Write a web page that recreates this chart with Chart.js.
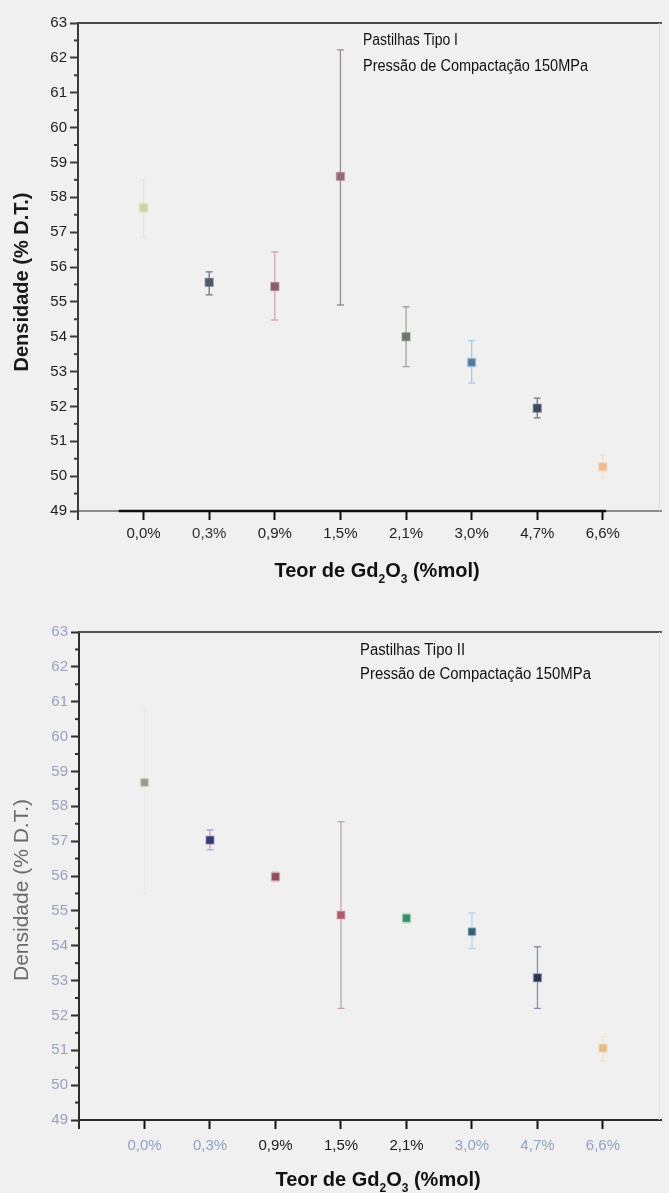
<!DOCTYPE html>
<html>
<head>
<meta charset="utf-8">
<script src="https://cdn.jsdelivr.net/npm/chart.js@4/dist/chart.umd.min.js"></script>
<style>
  html, body { margin: 0; padding: 0; background: #f0f0f0; }
  #wrap { position: relative; width: 669px; height: 1193px; overflow: hidden; }
  .panel { position: absolute; left: 0; width: 669px; }
  #p1 { top: 0; height: 596px; }
  #p2 { top: 596px; height: 597px; }
</style>
</head>
<body>
<div id="wrap">
  <div class="panel" id="p1"><canvas id="c1"></canvas></div>
  <div class="panel" id="p2"><canvas id="c2"></canvas></div>
</div>
<script>
// Gd2O3 content (mol %) — categorical positions 1..8 on the x axis
const categories = ['0,0%', '0,3%', '0,9%', '1,5%', '2,1%', '3,0%', '4,7%', '6,6%'];

// Pellet type I — green density (% of theoretical density)
const densityTipoI = [57.70, 55.56, 55.44, 58.60, 54.00, 53.26, 51.95, 50.27];
const lowTipoI     = [56.85, 55.20, 54.48, 54.91, 53.14, 52.67, 51.67, 49.95];
const highTipoI    = [58.50, 55.86, 56.43, 62.23, 54.86, 53.89, 52.24, 50.60];

// Pellet type II — green density (% of theoretical density)
const densityTipoII = [58.68, 57.03, 55.98, 54.88, 54.79, 54.40, 53.08, 51.06];
const lowTipoII     = [55.50, 56.75, 55.83, 52.20, 54.65, 53.92, 52.20, 50.70];
const highTipoII    = [60.80, 57.32, 56.13, 57.56, 54.93, 54.94, 53.97, 51.40];

// Axis range and labels
const yMin = 49, yMax = 63;
const yTitle = 'Densidade (% D.T.)';
const xTitleParts = [['Teor de Gd', 0], ['2', 1], ['O', 0], ['3', 1], [' (%mol)', 0]];
const noteTipoI = ['Pastilhas Tipo I', 'Pressão de Compactação 150MPa'];
const noteTipoII = ['Pastilhas Tipo II', 'Pressão de Compactação 150MPa'];

const FONT = '"Liberation Sans", Arial, Helvetica, sans-serif';

function drawFitted(ctx, text, x, baseline, width, font, color) {
  ctx.save();
  ctx.font = font;
  ctx.fillStyle = color;
  ctx.textAlign = 'left';
  ctx.textBaseline = 'alphabetic';
  const w = ctx.measureText(text).width;
  ctx.translate(x, baseline);
  ctx.scale(width / w, 1);
  ctx.fillText(text, 0, 0);
  ctx.restore();
}

function drawFormula(ctx, parts, cx, baseline, size, weight, color) {
  ctx.save();
  ctx.fillStyle = color;
  ctx.textAlign = 'left';
  ctx.textBaseline = 'alphabetic';
  const main = weight + ' ' + size + 'px ' + FONT;
  const sub = weight + ' ' + Math.round(size * 0.62) + 'px ' + FONT;
  let total = 0;
  parts.forEach(([t, s]) => { ctx.font = s ? sub : main; total += ctx.measureText(t).width; });
  let x = cx - total / 2;
  parts.forEach(([t, s]) => {
    ctx.font = s ? sub : main;
    ctx.fillText(t, x, baseline + (s ? size * 0.3 : 0));
    x += ctx.measureText(t).width;
  });
  ctx.restore();
}

const decor = {
  id: 'decor',
  beforeDatasetsDraw(chart, args, o) {
    const { ctx, chartArea: a, scales: { x, y } } = chart;
    ctx.save();
    // top frame line
    ctx.strokeStyle = o.frameColor;
    ctx.lineWidth = 2;
    ctx.beginPath();
    ctx.moveTo(a.left, a.top);
    ctx.lineTo(a.right, a.top);
    ctx.stroke();
    // faint right edge
    ctx.strokeStyle = o.rightColor;
    ctx.lineWidth = 1;
    ctx.beginPath();
    ctx.moveTo(a.right - 2.5, a.top);
    ctx.lineTo(a.right - 2.5, a.bottom);
    ctx.stroke();
    // dark section of the bottom axis
    if (o.darkAxis) {
      ctx.strokeStyle = '#111';
      ctx.lineWidth = 2.5;
      ctx.beginPath();
      ctx.moveTo(x.getPixelForValue(o.darkAxis[0]), a.bottom);
      ctx.lineTo(x.getPixelForValue(o.darkAxis[1]), a.bottom);
      ctx.stroke();
    }
    // y axis runs a little below the x axis
    ctx.strokeStyle = o.axisColor;
    ctx.lineWidth = 2;
    ctx.beginPath();
    ctx.moveTo(a.left, a.bottom);
    ctx.lineTo(a.left, a.bottom + 9);
    ctx.stroke();
    // minor ticks on the y axis (half units)
    ctx.strokeStyle = o.axisColor;
    ctx.lineWidth = 2;
    for (let v = yMin + 0.5; v < yMax; v += 1) {
      const py = y.getPixelForValue(v);
      ctx.beginPath();
      ctx.moveTo(a.left - 4, py);
      ctx.lineTo(a.left + 1, py);
      ctx.stroke();
    }
    // error bars
    o.low.forEach((lo, i) => {
      const px = x.getPixelForValue(i + 1);
      const y1 = y.getPixelForValue(lo);
      const y2 = y.getPixelForValue(o.high[i]);
      ctx.strokeStyle = o.barColors[i];
      ctx.lineWidth = 1.3;
      ctx.beginPath();
      ctx.moveTo(px, y1); ctx.lineTo(px, y2);
      ctx.moveTo(px - 3.5, y1); ctx.lineTo(px + 3.5, y1);
      ctx.moveTo(px - 3.5, y2); ctx.lineTo(px + 3.5, y2);
      ctx.stroke();
    });
    ctx.restore();
  },
  afterDraw(chart, args, o) {
    const { ctx } = chart;
    // annotation
    drawFitted(ctx, o.note[0], o.noteX, o.noteY[0], o.noteW[0], '16px ' + FONT, '#111');
    drawFitted(ctx, o.note[1], o.noteX, o.noteY[1], o.noteW[1], '16px ' + FONT, '#111');
    // x title with subscripts
    drawFormula(ctx, xTitleParts, o.xTitleX, o.xTitleY, 20, 'bold', '#111');
    // y title
    ctx.save();
    ctx.translate(o.yTitleX, o.yTitleY);
    ctx.rotate(-Math.PI / 2);
    ctx.font = o.yTitleFont;
    ctx.fillStyle = o.yTitleColor;
    ctx.textAlign = 'center';
    ctx.textBaseline = 'middle';
    ctx.fillText(yTitle, 0, 0);
    ctx.restore();
  }
};

function makeChart(id, p) {
  const points = p.values.map((v, i) => ({ x: i + 1, y: v }));
  return new Chart(document.getElementById(id), {
    type: 'scatter',
    data: {
      datasets: [{
        data: points,
        pointStyle: 'rect',
        pointRadius: 5.6,
        pointHoverRadius: 5.6,
        pointBackgroundColor: p.pointColors,
        pointBorderColor: p.haloColors,
        pointBorderWidth: 1.5,
        showLine: false
      }]
    },
    options: {
      responsive: true,
      maintainAspectRatio: false,
      animation: false,
      devicePixelRatio: 1,
      layout: { padding: { top: p.top, right: 0, left: 0, bottom: 0 } },
      plugins: {
        legend: { display: false },
        tooltip: { enabled: false },
        decor: p.decor
      },
      scales: {
        x: {
          type: 'linear',
          min: 0,
          max: 8.9,
          afterFit(s) { s.height = p.xHeight; },
          afterBuildTicks(s) { s.ticks = categories.map((c, i) => ({ value: i + 1 })); },
          ticks: {
            autoSkip: false,
            maxRotation: 0,
            padding: p.xPad,
            font: { family: FONT, size: 15 },
            color: (c) => p.xLabelColors[c.index] || '#222',
            callback: (v) => categories[v - 1] || ''
          },
          grid: { drawOnChartArea: false, tickLength: 9, tickColor: '#111', tickWidth: 2 },
          border: { color: p.xAxisColor, width: 2 }
        },
        y: {
          min: yMin,
          max: yMax,
          afterFit(s) { s.width = p.yWidth; },
          ticks: {
            stepSize: 1,
            padding: 3,
            font: { family: FONT, size: 15 },
            color: p.yLabelColor
          },
          grid: { drawOnChartArea: false, tickLength: 8, tickColor: p.axisColor, tickWidth: 2 },
          border: { color: p.axisColor, width: 2 }
        }
      }
    },
    plugins: [decor]
  });
}

makeChart('c1', {
  values: densityTipoI,
  top: 23, xHeight: 85, yWidth: 78, xPad: 5,
  pointColors: ['#d2d09c', '#4e5a68', '#8a5c70', '#946c7a', '#6c786e', '#58789a', '#3c4c5e', '#ecbc94'],
  haloColors: ['rgba(220,218,170,0.5)', 'rgba(90,100,115,0.45)', 'rgba(150,100,120,0.4)', 'rgba(160,115,130,0.4)',
               'rgba(120,130,120,0.4)', 'rgba(150,190,230,0.6)', 'rgba(80,100,125,0.45)', 'rgba(245,205,170,0.5)'],
  xLabelColors: ['#222', '#333', '#222', '#222', '#222', '#222', '#222', '#222'],
  yLabelColor: '#222',
  xAxisColor: '#8c8c8c',
  axisColor: '#3c3c3c',
  decor: {
    frameColor: '#4a4a4a', rightColor: '#dcdcdc', axisColor: '#3c3c3c',
    darkAxis: [0.62, 8.05],
    low: lowTipoI, high: highTipoI,
    barColors: ['#e6e4cc', '#6e7884', '#d2a8ba', '#9c8c92', '#a2a69e', '#a8c8e6', '#6a7888', '#f2e0cc'],
    note: noteTipoI, noteX: 363, noteY: [45, 71], noteW: [95, 225],
    xTitleX: 377, xTitleY: 577,
    yTitleX: 22, yTitleY: 282, yTitleFont: 'bold 20px ' + FONT, yTitleColor: '#1a1a1a'
  }
});

makeChart('c2', {
  values: densityTipoII,
  top: 36, xHeight: 73, yWidth: 79, xPad: 8,
  pointColors: ['#9a9a88', '#383c6c', '#8c4c5c', '#a85c6c', '#3a8c6c', '#3a5c6c', '#2a3250', '#e4bc88'],
  haloColors: ['rgba(220,220,200,0.5)', 'rgba(130,130,190,0.45)', 'rgba(200,150,160,0.45)', 'rgba(230,170,180,0.45)',
               'rgba(150,210,180,0.45)', 'rgba(170,210,235,0.6)', 'rgba(120,130,170,0.45)', 'rgba(245,215,175,0.5)'],
  xLabelColors: ['#8ea2c2', '#8ea2c2', '#1a1a1a', '#1a1a1a', '#1a1a1a', '#8ea2c2', '#8ea2c2', '#8ea2c2'],
  yLabelColor: '#98a2c0',
  xAxisColor: '#2a2a2a',
  axisColor: '#2e2e2e',
  decor: {
    frameColor: '#505050', rightColor: '#e2e2e2', axisColor: '#2e2e2e',
    darkAxis: null,
    low: lowTipoII, high: highTipoII,
    barColors: ['#ebebdc', '#a8a8d2', '#ecd0d6', '#c4a4ac', '#c4e0d2', '#b8d4ea', '#8890b2', '#f2e4cc'],
    note: noteTipoII, noteX: 360, noteY: [59, 83], noteW: [105, 231],
    xTitleX: 378, xTitleY: 590,
    yTitleX: 22, yTitleY: 294, yTitleFont: '21px ' + FONT, yTitleColor: '#6a6a6a'
  }
});
</script>
</body>
</html>
